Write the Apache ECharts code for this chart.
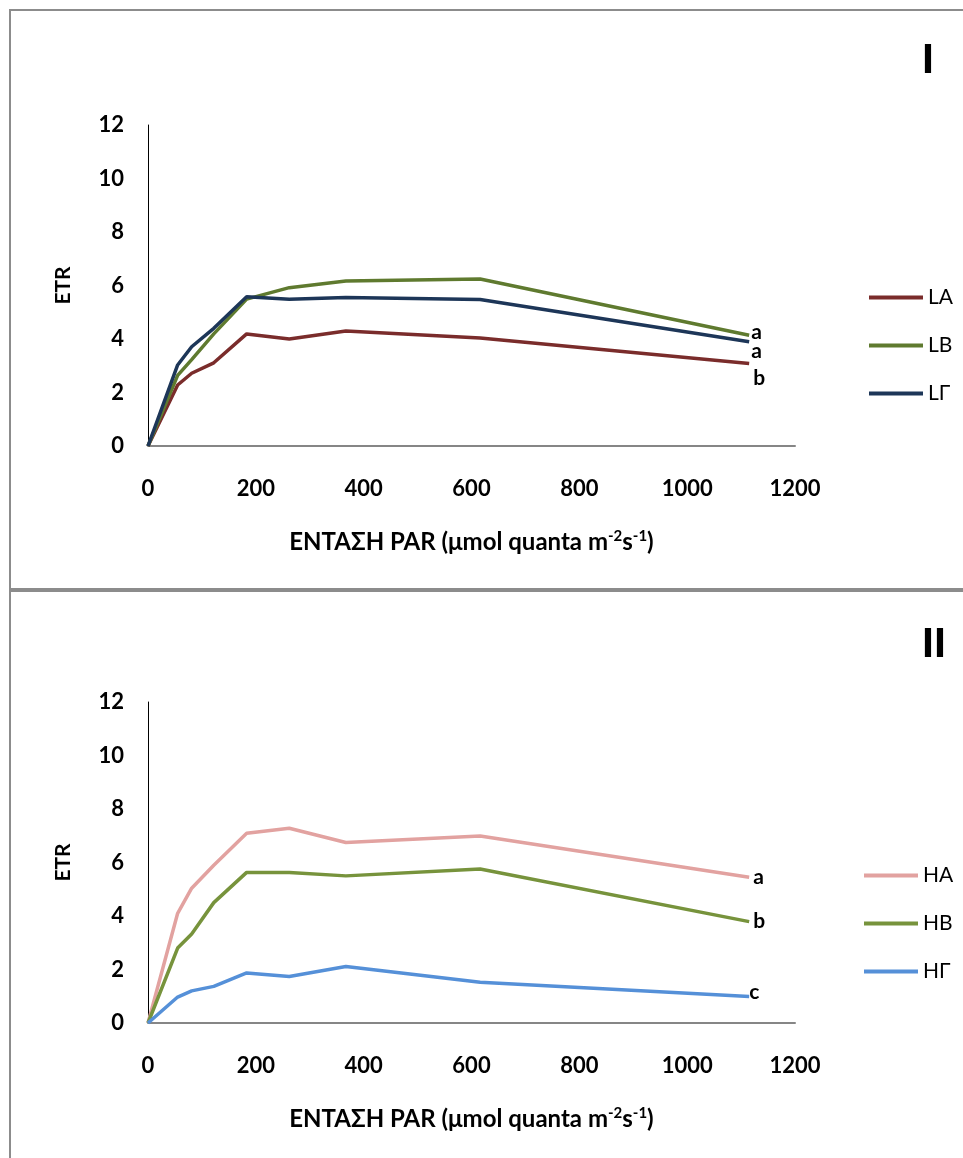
<!DOCTYPE html>
<html>
<head>
<meta charset="utf-8">
<script src="https://cdn.jsdelivr.net/npm/echarts@6/dist/echarts.min.js"></script>
<style>
html,body{margin:0;padding:0;background:#fff;}
#chart{width:963px;height:1158px;}
</style>
</head>
<body>
<div id="chart"></div>
<script>
// PAR light intensity steps (μmol quanta m-2 s-1)
const par = [0, 55, 81, 122, 183, 262, 367, 616, 1115];
const xTicks = [0, 200, 400, 600, 800, 1000, 1200];
const yTicks = [0, 2, 4, 6, 8, 10, 12];

// Panel I
const namesI = ['LA', 'LB', 'LΓ'];
const LA = [0, 2.28, 2.72, 3.11, 4.19, 4.00, 4.30, 4.04, 3.08];
const LB = [0, 2.64, 3.23, 4.19, 5.49, 5.92, 6.17, 6.24, 4.14];
const LG = [0, 3.03, 3.71, 4.40, 5.58, 5.49, 5.55, 5.48, 3.90];
const lettersI = ['b', 'a', 'a'];

// Panel II
const namesII = ['HA', 'HB', 'HΓ'];
const HA = [0, 4.10, 5.04, 5.90, 7.09, 7.28, 6.75, 6.99, 5.45];
const HB = [0, 2.80, 3.33, 4.50, 5.63, 5.63, 5.50, 5.76, 3.79];
const HG = [0, 0.97, 1.20, 1.37, 1.87, 1.74, 2.11, 1.52, 0.99];
const lettersII = ['a', 'b', 'c'];

const colorsI = ['#7a2c2b', '#5f7a2f', '#1d3658'];
const colorsII = ['#e2a2a0', '#77933c', '#5590d8'];
const offsI = [[0, 15], [-2, -3], [-2, 10]];
const offsII = [[0, 0], [0, 0], [-4, -4]];

const FONT = 'Lato';
const xName = '{t|ΕΝΤΑΣΗ PAR (μmol quanta m}{s|-2}{t|s}{s|-1}{t|)}';
const nameRich = {
  t: {fontFamily: FONT, fontWeight: 'bold', fontSize: 24, color: '#000', lineHeight: 27, verticalAlign: 'bottom'},
  s: {fontFamily: FONT, fontWeight: 'bold', fontSize: 15, color: '#000', lineHeight: 27, verticalAlign: 'top', padding: [2, 0, 0, 0]}
};

function pairs(ys) { return par.map((x, i) => [x, ys[i]]); }

function makeX(gi) {
  return {
    type: 'value', gridIndex: gi, min: xTicks[0], max: xTicks[xTicks.length - 1], interval: xTicks[1] - xTicks[0],
    axisLine: {show: true, lineStyle: {color: '#868686', width: 2}},
    axisTick: {show: false}, splitLine: {show: false},
    axisLabel: {margin: 32, fontFamily: FONT, fontWeight: 'bold', fontSize: 22, color: '#000', formatter: v => String(v)},
    name: xName, nameLocation: 'middle', nameGap: 81,
    nameTextStyle: {rich: nameRich}
  };
}
function makeY(gi) {
  return {
    type: 'value', gridIndex: gi, min: yTicks[0], max: yTicks[yTicks.length - 1], interval: yTicks[1] - yTicks[0],
    axisLine: {show: true, lineStyle: {color: '#000', width: 1}},
    axisTick: {show: false}, splitLine: {show: false},
    axisLabel: {margin: 24, fontFamily: FONT, fontWeight: 'bold', fontSize: 22, color: '#000', formatter: v => String(v)},
    name: 'ETR', nameLocation: 'middle', nameGap: 74, nameRotate: 90,
    nameTextStyle: {fontFamily: FONT, fontWeight: 'bold', fontSize: 21, color: '#000'}
  };
}
function makeSeries(names, datas, colors, letters, offs, gi) {
  return names.map((n, i) => ({
    name: n, type: 'line', xAxisIndex: gi, yAxisIndex: gi,
    data: pairs(datas[i]), showSymbol: false, symbol: 'none',
    lineStyle: {color: colors[i], width: 3.5}, itemStyle: {color: colors[i]},
    endLabel: {show: true, formatter: letters[i], offset: offs[i], distance: 4,
      fontFamily: FONT, fontWeight: 'bold', fontSize: 21, color: '#000'},
    animation: false
  }));
}
function makeLegend(names, left, top) {
  return {
    data: names, orient: 'vertical', left: left, top: top, icon: 'rect',
    itemWidth: 54, itemHeight: 4, itemGap: 27,
    textStyle: {fontFamily: FONT, fontSize: 21, color: '#000', lineHeight: 21}
  };
}

const chart = echarts.init(document.getElementById('chart'), null, {renderer: 'canvas'});
chart.setOption({
  backgroundColor: '#fff',
  animation: false,
  grid: [
    {left: 148, top: 125, width: 647, height: 321},
    {left: 148, top: 702, width: 647, height: 321}
  ],
  xAxis: [makeX(0), makeX(1)],
  yAxis: [makeY(0), makeY(1)],
  legend: [makeLegend(namesI, 864, 282), makeLegend(namesII, 859, 860)],
  series: [].concat(
    makeSeries(namesI, [LA, LB, LG], colorsI, lettersI, offsI, 0),
    makeSeries(namesII, [HA, HB, HG], colorsII, lettersII, offsII, 1)
  ),
  graphic: [
    {type: 'rect', shape: {x: 10, y: 10, width: 1000, height: 579}, style: {fill: 'none', stroke: '#8c8c8c', lineWidth: 2}, silent: true},
    {type: 'rect', shape: {x: 10, y: 591, width: 1000, height: 700}, style: {fill: 'none', stroke: '#8c8c8c', lineWidth: 2}, silent: true},
    {type: 'text', left: 922, top: 40, style: {text: 'I', font: 'bold 43px "Liberation Sans"', fill: '#000'}},
    {type: 'text', left: 922, top: 624, style: {text: 'II', font: 'bold 43px "Liberation Sans"', fill: '#000'}}
  ]
});
</script>
</body>
</html>
